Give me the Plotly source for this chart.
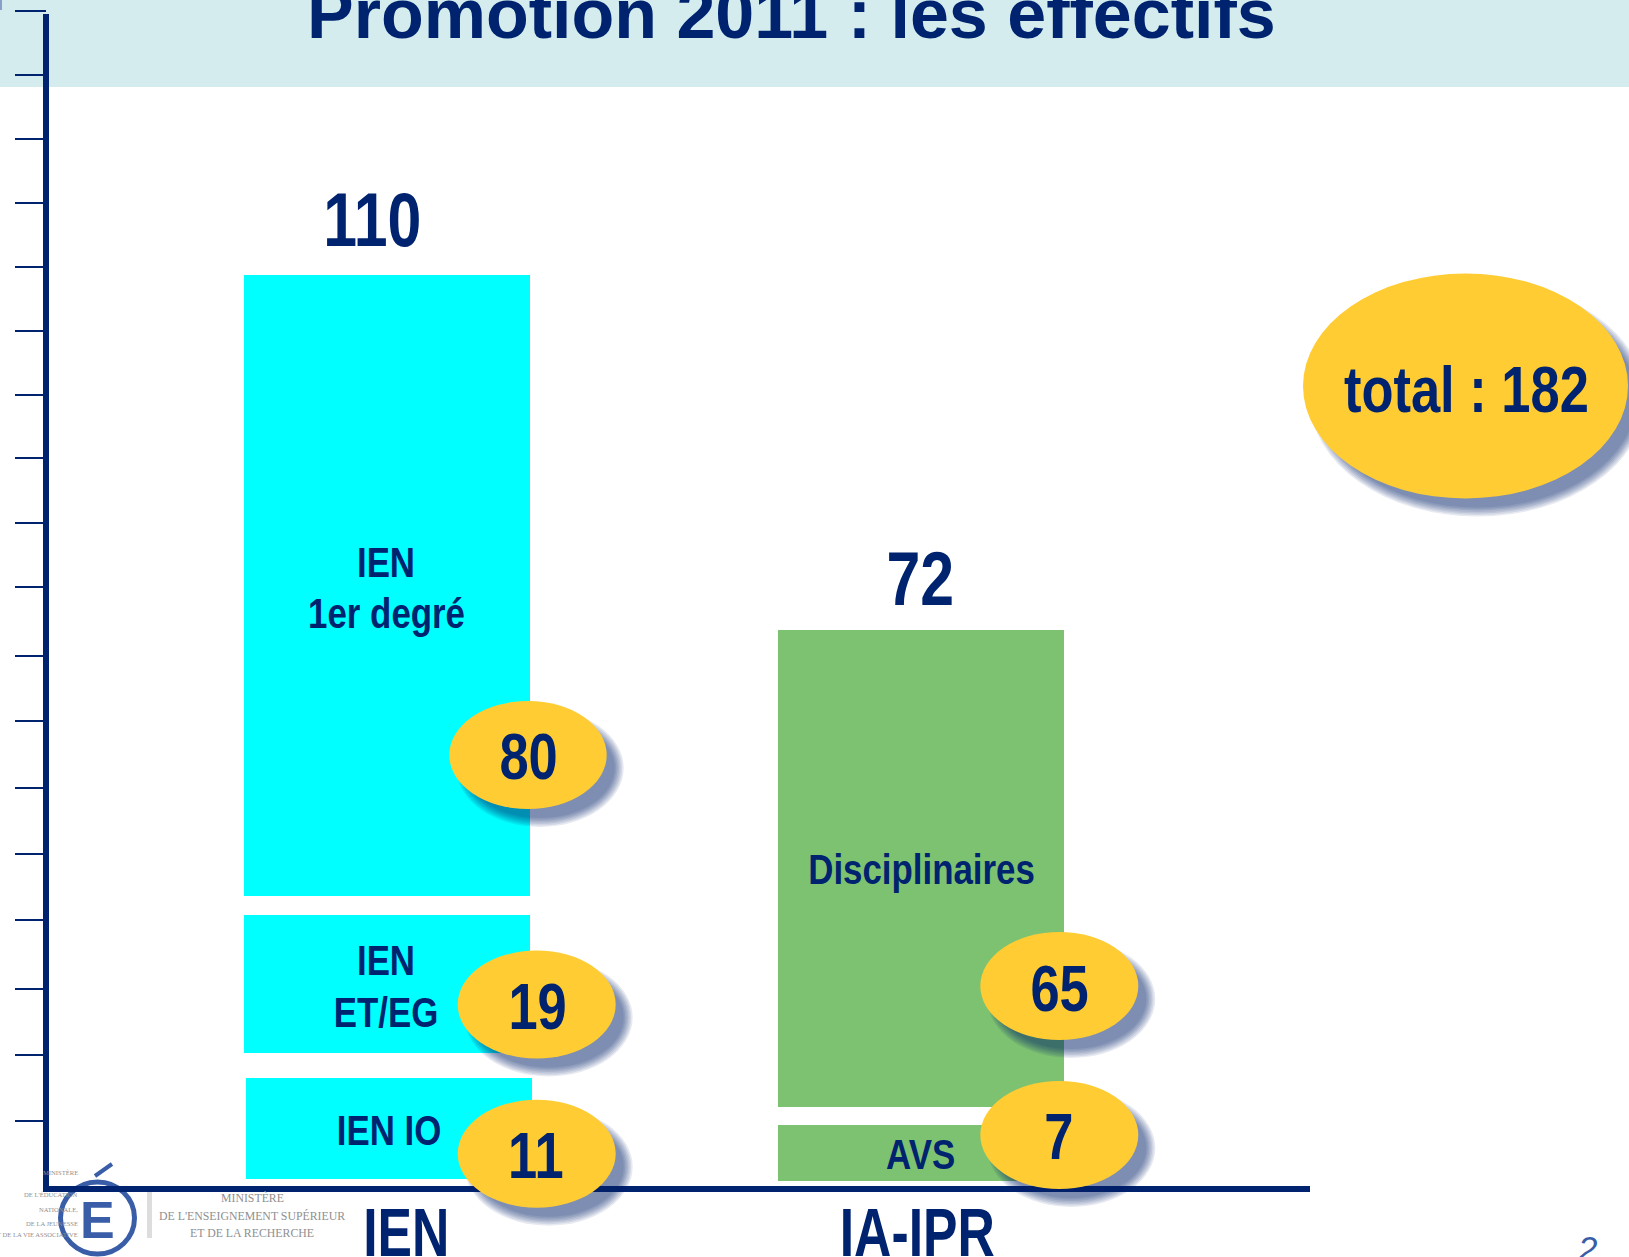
import plotly.graph_objects as go

# ---------- data ----------
groups = ["IEN", "IA-IPR"]
group_totals = [110, 72]
grand_total = 182

ien_labels = ["IEN IO", "IEN<br>ET/EG", "IEN<br>1er degré"]
ien_counts = [11, 19, 80]
ien_low = [0.9, 16.6, 36.3]      # read against the chart's y axis
ien_high = [13.5, 33.9, 113.9]

ipr_labels = ["AVS", "Disciplinaires"]
ipr_counts = [7, 65]
ipr_low = [0.6, 9.9]
ipr_high = [7.6, 69.5]

y_ticks = [8.1, 16.4, 24.6, 33.2, 41.5, 49.8, 58.1, 66.3, 74.9, 82.9,
           91.0, 98.9, 106.9, 114.9, 122.9, 130.9, 138.9]

# ---------- page geometry and style ----------
W, H = 1629, 1257
NAVY = "#00236f"
CYAN = "#00ffff"
GREEN = "#7dc271"
YELLOW = "#ffcc33"
BAND = "#d4ecee"
LOGO = "#3a5da8"
GREY = "#8f8f8f"
NARROW = "'Liberation Sans Narrow', 'Liberation Sans', Arial, sans-serif"
SANS = "'Liberation Sans', Arial, sans-serif"
SERIF = "'Liberation Serif', serif"

PL, PR, PT, PB = 49, 1310, 14, 1186
UNIT_X = 534.0
CX0 = 387.0
x_range = [(PL - CX0) / UNIT_X, (PR - CX0) / UNIT_X]
y_range = [0, (PB - PT) / 8.0]


def fx(px):
    return (px - PL) / (PR - PL)


def fy(py):
    return (PB - py) / (PB - PT)


def bar(xpos, low, high, colour, shift):
    return go.Bar(
        x=[xpos] * len(low),
        y=[h - l for l, h in zip(low, high)],
        base=low,
        width=286 / UNIT_X,
        offset=[-143 / UNIT_X + s / UNIT_X for s in shift],
        marker=dict(color=colour, line=dict(width=0)),
        showlegend=False,
        hoverinfo="skip",
    )


fig = go.Figure()
fig.add_trace(bar(0, ien_low, ien_high, CYAN, [2, 0, 0]))
fig.add_trace(bar(1, ipr_low, ipr_high, GREEN, [0, 0]))

shapes = []
annotations = []


def rect(x0, y0, x1, y1, colour, layer="below"):
    shapes.append(dict(type="rect", xref="paper", yref="paper", x0=fx(x0), x1=fx(x1),
                       y0=fy(y1), y1=fy(y0), fillcolor=colour, line_width=0, layer=layer))


def oval(cx, cy, rx, ry, fill, layer="above", stroke=None, sw=0, opacity=1):
    shapes.append(dict(type="circle", xref="paper", yref="paper",
                       x0=fx(cx - rx), x1=fx(cx + rx), y0=fy(cy + ry), y1=fy(cy - ry),
                       fillcolor=fill, line=dict(width=sw, color=stroke or "rgba(0,0,0,0)"),
                       opacity=opacity, layer=layer))


def text(s, cx, base, size, colour=NAVY, font=NARROW, bold=True, anchor="center"):
    annotations.append(dict(
        text=f"<b>{s}</b>" if bold else s, xref="paper", yref="paper",
        x=fx(cx), y=fy(base + size * 0.22), xanchor=anchor, yanchor="bottom",
        showarrow=False, align=anchor, font=dict(size=size, color=colour, family=font),
        borderpad=0, borderwidth=0))


def badge(cx, cy, rx, ry):
    # soft drop shadow built from stacked translucent ellipses
    for grow in (5, 3.5, 2, 0.5, -1, -2.5, -4):
        oval(cx + 12, cy + 13, rx + grow, ry + grow, "rgba(0,35,111,0.095)")
    oval(cx, cy, rx, ry, YELLOW)


# header band and small corner mark
rect(0, 0, W, 87, BAND)
rect(0, 0, 2, 10, "#8aa0c8")
# top tick sits above the axis line end
rect(15, 10, 46, 12, NAVY)

# logo
oval(97.5, 1218, 37, 36, "white", layer="below", stroke=LOGO, sw=5)
rect(147, 1192, 152, 1238, "#dddddd")
shapes.append(dict(type="line", xref="paper", yref="paper", x0=fx(95), x1=fx(112),
                   y0=fy(1176), y1=fy(1164), line=dict(color=LOGO, width=4), layer="below"))

# value badges
badge(528, 755, 78.7, 54)
badge(536.7, 1004.5, 79, 54)
badge(536.7, 1153.7, 79, 54)
badge(1059.3, 986, 79, 54)
badge(1059.3, 1135, 79, 54)
badge(1465.5, 386, 162.5, 112.5)

# texts
text("Promotion 2011 : les effectifs", 791, 38, 70, font=SANS)
text(group_totals[0], 373, 245, 76)
text(group_totals[1], 920, 604, 76)

text("IEN", 386, 577, 42)
text("1er degré", 386, 628, 42)
text("IEN", 386, 975, 42)
text("ET/EG", 386, 1026.7, 42)
text(ien_labels[0], 389, 1144.7, 42)
text(ipr_labels[1], 921, 884, 42)
text(ipr_labels[0], 920, 1169, 42)

text(ien_counts[2], 528, 779, 64)
text(ien_counts[1], 537, 1029, 64)
text(ien_counts[0], 536, 1178, 64)
text(ipr_counts[1], 1059, 1011, 64)
text(ipr_counts[0], 1059, 1159, 64)
text(f"total : {grand_total}", 1466, 412, 64)

text("E", 97, 1238, 52, colour=LOGO, font=SANS)
text("2", 1587, 1260, 35, colour=LOGO, font=SANS, bold=False)
annotations[-1]["text"] = "<i>2</i>"

for s, cx, base, size in [("MINISTÈRE", 252, 1202, 11.8),
                          ("DE L'ENSEIGNEMENT SUPÉRIEUR", 252, 1220, 11.8),
                          ("ET DE LA RECHERCHE", 252, 1237, 11.8)]:
    text(s, cx, base, size, colour=GREY, font=SERIF, bold=False)
for s, base in [("MINISTÈRE", 1175), ("DE L'ÉDUCATION", 1197), ("NATIONALE,", 1212),
                ("DE LA JEUNESSE", 1226), ("ET DE LA VIE ASSOCIATIVE", 1237)]:
    text(s, 78, base, 6.6, colour=GREY, font=SERIF, bold=False, anchor="right")

fig.update_layout(
    width=W, height=H, autosize=False,
    margin=dict(l=PL, r=W - PR, t=PT, b=H - PB, pad=0, autoexpand=False),
    paper_bgcolor="white", plot_bgcolor="rgba(0,0,0,0)",
    barmode="overlay", bargap=0, showlegend=False,
    shapes=shapes, annotations=annotations,
    xaxis=dict(range=x_range, tickmode="array", tickvals=[0.036, 0.993], ticktext=groups,
               automargin=False,
               showline=True, linecolor=NAVY, linewidth=6, showgrid=False, zeroline=False,
               ticks="", ticklabelstandoff=-18,
               tickfont=dict(size=68, color=NAVY, family=NARROW, weight="bold")),
    yaxis=dict(range=y_range, tickmode="array", tickvals=y_ticks, showticklabels=False,
               automargin=False,
               showline=True, linecolor=NAVY, linewidth=6, showgrid=False, zeroline=False,
               ticks="outside", ticklen=28, tickwidth=2, tickcolor=NAVY),
)

# The reference lettering is condensed; no narrow face is installed, so the real
# text elements are squeezed horizontally around their own centres.
post = """
document.body.style.margin='0';document.body.style.overflow='hidden';
document.querySelectorAll('.annotation-text, .xtick text').forEach(function(t){
  if(!(t.style.fontFamily||'').includes('Narrow')) return;
  var size=parseFloat(t.style.fontSize);
  var k=size>=72?0.80:(size>=66?0.76:(size>=50?0.82:0.83));
  var b=t.getBBox(), c=b.x+b.width/2, old=t.getAttribute('transform')||'';
  t.setAttribute('transform',old+' translate('+c+',0) scale('+k+',1) translate('+(-c)+',0)');
});
"""
fig.write_html("out.html", post_script=post, config=dict(displayModeBar=False))
